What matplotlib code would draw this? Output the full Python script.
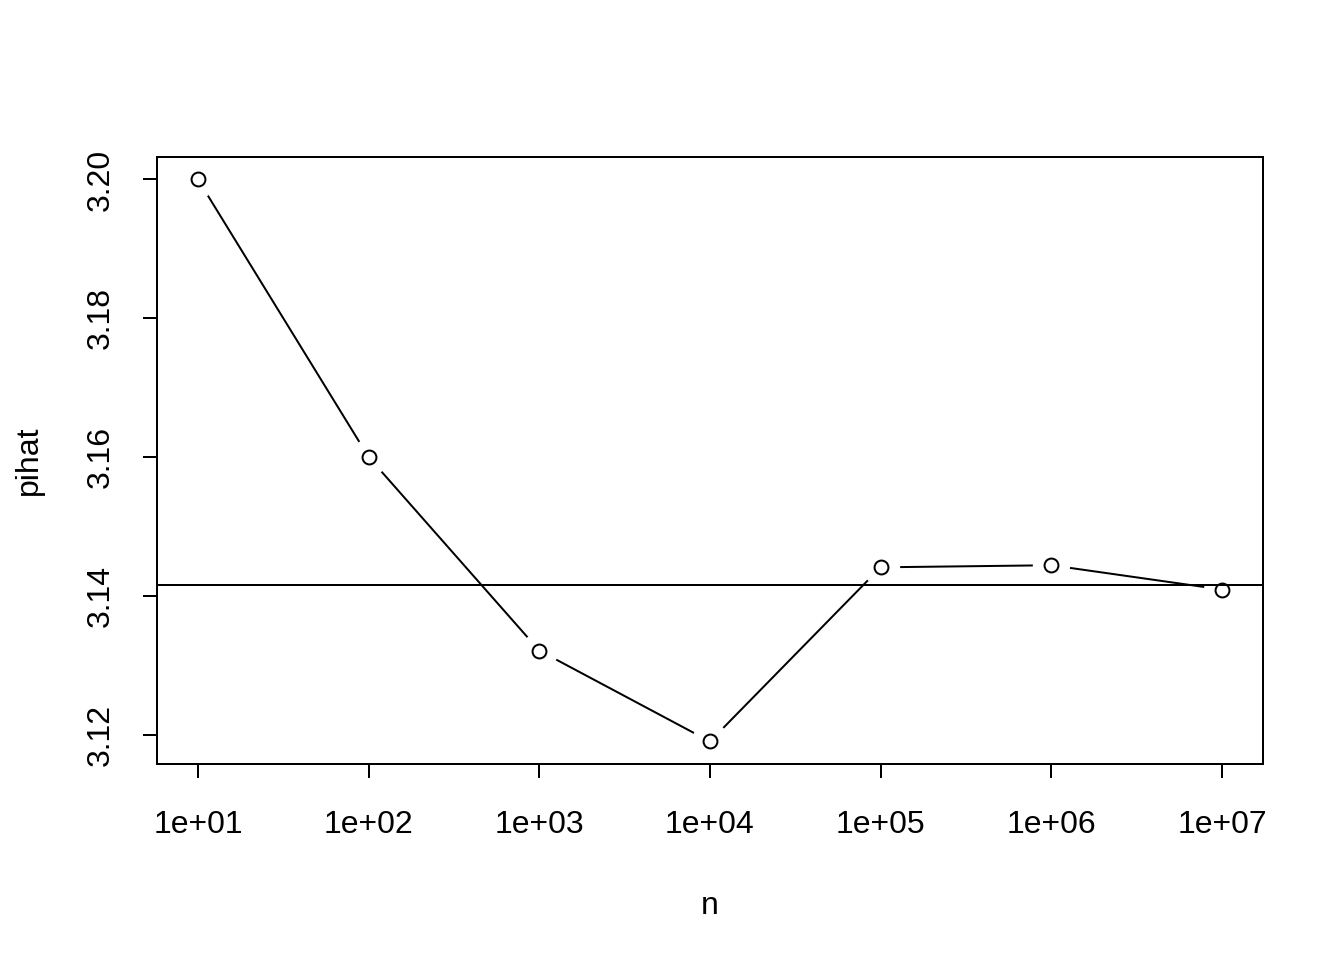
import matplotlib
matplotlib.use("Agg")
import matplotlib.pyplot as plt
import numpy as np

n = [1e1, 1e2, 1e3, 1e4, 1e5, 1e6, 1e7]
pihat = [3.2, 3.16, 3.1321, 3.1190, 3.1441, 3.1444, 3.1409]
xtick_labels = ["1e+01", "1e+02", "1e+03", "1e+04", "1e+05", "1e+06", "1e+07"]
ytick_vals = [3.12, 3.14, 3.16, 3.18, 3.20]

plt.rcParams['font.family'] = ['Liberation Sans', 'DejaVu Sans']
plt.rcParams['font.size'] = 12

fig = plt.figure(figsize=(7, 5), dpi=192)
ax = fig.add_axes([0.1168, 0.2042, 0.8229, 0.6323])

# line, then white disks to make gaps (type="b"), then open circles
ax.plot(n, pihat, color="black", lw=0.75, zorder=2)
ax.plot(n, pihat, ls="none", marker="o", ms=14, mfc="white", mec="none", zorder=3)
ax.plot(n, pihat, ls="none", marker="o", ms=5.2, mfc="white", mec="black", mew=0.75, zorder=4)
ax.axhline(np.pi, color="black", lw=0.75, zorder=5)

ax.set_xscale("log")
lx = np.log10(n)
r = lx.max() - lx.min()
ax.set_xlim(10 ** (lx.min() - 0.04 * r), 10 ** (lx.max() + 0.04 * r))
yr = max(pihat) - min(pihat)
ax.set_ylim(min(pihat) - 0.04 * yr, max(pihat) + 0.04 * yr)

ax.xaxis.set_major_locator(matplotlib.ticker.FixedLocator(n))
ax.xaxis.set_minor_locator(matplotlib.ticker.NullLocator())
ax.set_xticklabels(xtick_labels)
ax.set_yticks(ytick_vals)
ax.set_yticklabels(["%.2f" % v for v in ytick_vals], rotation=90, va="center")

ax.tick_params(axis="both", direction="out", length=5.3, width=0.75, labelsize=12)
ax.tick_params(axis="x", pad=12)
ax.tick_params(axis="y", pad=10)
for s in ax.spines.values():
    s.set_linewidth(0.75)

ax.set_xlabel("n", labelpad=19)
ax.set_ylabel("pihat", labelpad=16)

fig.savefig("out.png", dpi=192)
